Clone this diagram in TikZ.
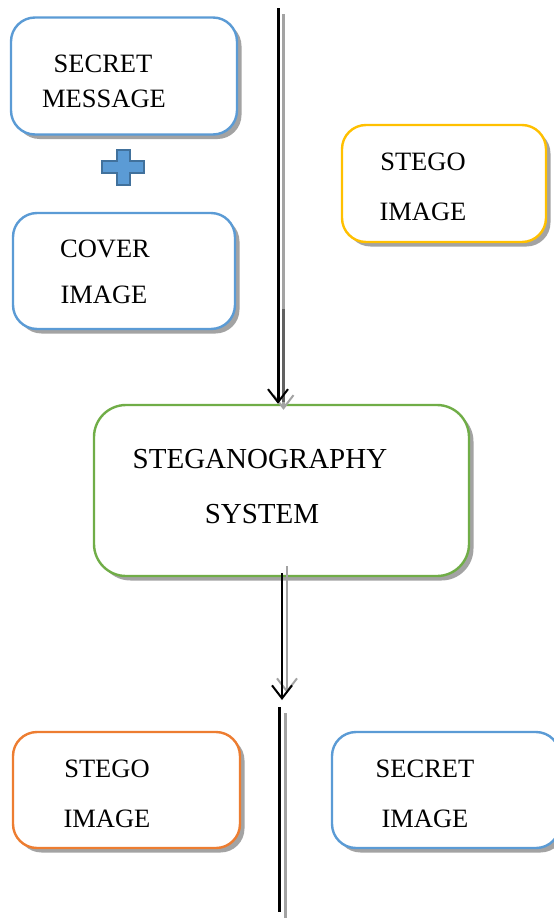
\documentclass[tikz,border=0pt]{standalone}
\usepackage{fontspec}
\setmainfont{Liberation Serif}
\usetikzlibrary{arrows.meta,shadows}
\definecolor{cblue}{HTML}{5B9BD5}
\definecolor{cblueedge}{HTML}{41719C}
\definecolor{cyellow}{HTML}{FFC000}
\definecolor{cgreen}{HTML}{70AD47}
\definecolor{corange}{HTML}{ED7D31}
\definecolor{shadegray}{HTML}{A3A3A3}
\tikzset{
  box/.style={draw=#1, line width=2.4pt, fill=white, rounded corners=24pt,
    inner sep=0pt,
    general shadow={fill=shadegray, shadow xshift=4.5pt, shadow yshift=-4.5pt}},
  label text/.style={font=\fontsize{26.5}{32}\selectfont, anchor=base, inner sep=0pt},
  big text/.style={label text, font=\fontsize{29}{34}\selectfont},
  flow/.style={line width=3pt, -{Straight Barb[length=13pt,width=20pt,line width=2pt]}},
  flow shade/.style={flow, draw=shadegray},
  rail/.style={line width=3pt},
}
\begin{document}
\begin{tikzpicture}[x=1pt,y=-1pt]
\path[use as bounding box] (0,0) rectangle (554,918);

% input boxes
\node[box=cblue, minimum width=226pt, minimum height=117pt] (msg) at (124,76) {};
\node[label text] (msg1) at (103,72) {SECRET};
\node[label text] (msg2) at (104,107) {MESSAGE};

% plus sign
\fill[cblue, draw=cblueedge, line width=1.2pt]
  (117,150) -- (130,150) -- (130,161) -- (144,161) -- (144,173) -- (130,173)
  -- (130,185) -- (117,185) -- (117,173) -- (102,173) -- (102,161) -- (117,161) -- cycle;

\node[box=cblue, minimum width=222pt, minimum height=116pt] (cover) at (124,271) {};
\node[label text] (cover1) at (105,257) {COVER};
\node[label text] (cover2) at (104,303) {IMAGE};

\node[box=cyellow, minimum width=204pt, minimum height=117pt] (stin) at (444,183.5) {};
\node[label text] (stin1) at (423,170) {STEGO};
\node[label text] (stin2) at (423,220) {IMAGE};

% central system
\node[box=cgreen, rounded corners=32pt, minimum width=375pt, minimum height=171pt] (sys) at (281.5,490.5) {};
\node[big text] (sys1) at (260,468) {STEGANOGRAPHY};
\node[big text] (sys2) at (262,523) {SYSTEM};

% output boxes
\node[box=corange, minimum width=227pt, minimum height=116pt] (stout) at (126.5,790) {};
\node[label text] (stout1) at (107,777) {STEGO};
\node[label text] (stout2) at (107,827) {IMAGE};

\node[box=cblue, minimum width=228pt, minimum height=116pt] (secout) at (446,790) {};
\node[label text] (secout1) at (425,777) {SECRET};
\node[label text] (secout2) at (425,827) {IMAGE};

% connectors
\coordinate (tin) at (278,8);
\coordinate (tdark) at (278,303);
\coordinate (mend) at (282,700);
\coordinate (b1) at (279,707);
\coordinate (b2) at (279,912);

\draw[flow shade, transform canvas={shift={(5.5pt,-6pt)}}] (tin) -- (tin |- sys.north);
\draw[line width=3pt, draw=black!62, transform canvas={shift={(5.5pt,-6pt)}}, shorten >=8pt] (tdark) -- (tdark |- sys.north);
\draw[flow] (tin) -- (tin |- sys.north);

\draw[flow shade, line width=2pt, transform canvas={shift={(5pt,7pt)}}] ([yshift=4pt]mend |- sys.south) -- (mend);
\draw[flow, line width=2.2pt] ([yshift=4pt]mend |- sys.south) -- (mend);

\draw[rail, draw=shadegray, transform canvas={shift={(6pt,-6pt)}}] (b1) -- (b2);
\draw[rail] (b1) -- (b2);
\end{tikzpicture}
\end{document}
